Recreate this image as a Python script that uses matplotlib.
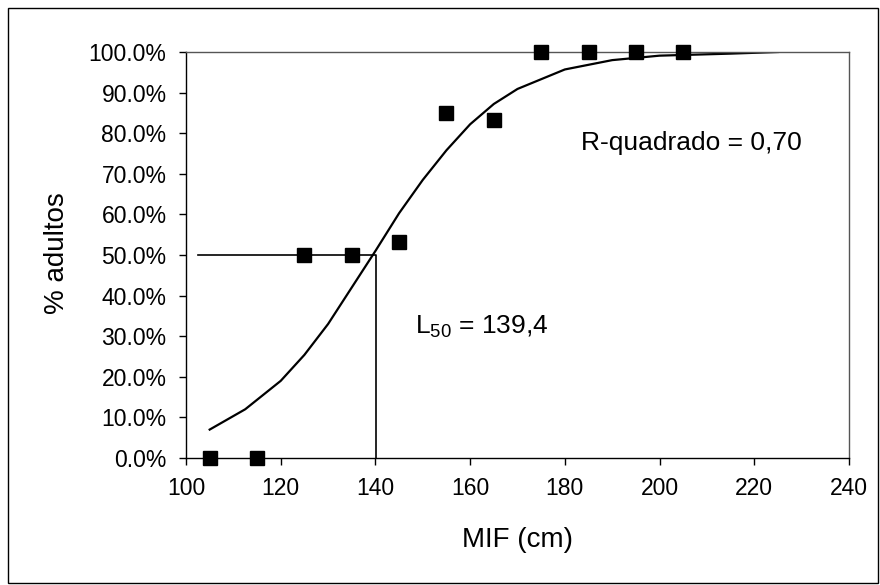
import matplotlib
matplotlib.use("Agg")
import matplotlib.pyplot as plt
from matplotlib.patches import Rectangle
from matplotlib.ticker import FuncFormatter

plt.rcParams['font.family'] = ['Liberation Sans', 'DejaVu Sans']

# observed data
mif = [105, 115, 125, 135, 145, 155, 165, 175, 185, 195, 205]
pct_adults = [0.0, 0.0, 50.0, 50.0, 53.3, 85.0, 83.3, 100.0, 100.0, 100.0, 100.0]

# fitted curve
curve_x = [105, 112.5, 120, 125, 130, 135, 140, 145, 150, 155, 160, 165, 170, 180, 190, 200, 215, 225]
curve_y = [7.0, 12.0, 19.0, 25.4, 33.0, 42.0, 51.0, 60.3, 68.5, 75.8, 82.2, 87.2, 90.9, 95.7, 98.0, 99.1, 99.6, 100.0]

# L50 guide lines
l50_x = [102.5, 140.2, 140.2]
l50_y = [50.0, 50.0, 0.0]

xticks = [100, 120, 140, 160, 180, 200, 220, 240]
yticks = [0, 10, 20, 30, 40, 50, 60, 70, 80, 90, 100]

fig = plt.figure(figsize=(8.8, 5.85), dpi=100)
fig.patches.append(Rectangle((8/880, 2/585), 870/880, 575/585, transform=fig.transFigure,
                             fill=False, edgecolor='black', linewidth=1.0))
ax = fig.add_axes([186/880, 1-458/585, 663/880, 406/585])

ax.plot(curve_x, curve_y, color='black', linewidth=1.6, zorder=2)
ax.plot(l50_x, l50_y, color='black', linewidth=1.2, zorder=2)
ax.plot(mif, pct_adults, linestyle='none', marker='s', markersize=9.5, color='black', zorder=3, clip_on=False)

ax.set_xlim(100, 240)
ax.set_ylim(0, 100)
ax.set_xticks(xticks)
ax.set_yticks(yticks)
ax.yaxis.set_major_formatter(FuncFormatter(lambda v, p: f"{v:.1f}%"))
ax.tick_params(direction='out', length=5, width=1, labelsize=16.5, colors='black')
ax.tick_params(axis='y', pad=9)
ax.tick_params(axis='x', pad=9)
for name, s in ax.spines.items():
    s.set_linewidth(1.0)
    s.set_color('black' if name in ('left', 'bottom') else '#555555')

ax.set_xlabel('MIF (cm)', fontsize=20)
ax.set_ylabel('% adultos', fontsize=20)
ax.xaxis.set_label_coords(0.5, (458-540)/406)
ax.yaxis.set_label_coords((57-186)/663, 0.505)
ax.xaxis.label.set_va('center')
ax.yaxis.label.set_va('center')

ax.text(183.5, 77.5, 'R-quadrado = 0,70', fontsize=19, ha='left', va='center')
ax.text(148.3, 32.3, r'L$_{\mathregular{50}}$ = 139,4', fontsize=19, ha='left', va='center')

fig.savefig('out.png', dpi=100)
